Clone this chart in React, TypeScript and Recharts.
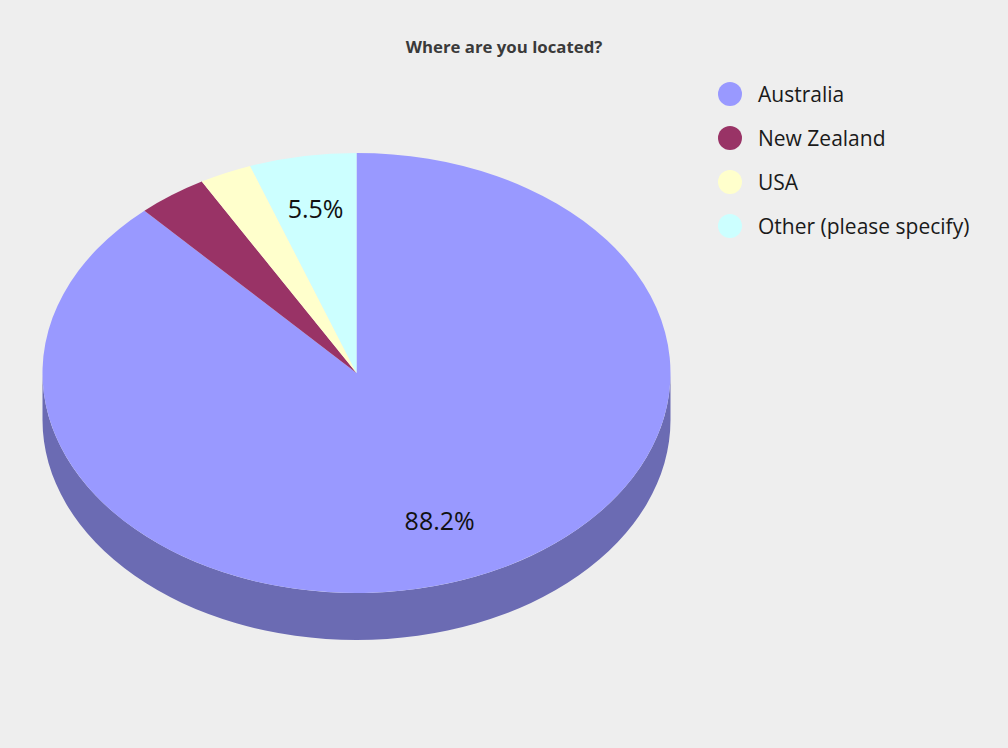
import { PieChart, Pie, Legend } from 'recharts'

const categories = ['Australia', 'New Zealand', 'USA', 'Other (please specify)']
const shares = [88.2, 3.6, 2.7, 5.5]
const colors = ['#9999ff', '#993366', '#ffffcc', '#ccffff']
const labelledShares = ['88.2%', '5.5%']

const FONT = '"Open Sans", "Noto Sans", sans-serif'
const TILT = 220 / 314 // vertical squash of the pie
const DEPTH = 47

const rows = categories.map((name, i) => ({ name, value: shares[i], fill: colors[i] }))

const rad = (a: number) => (a * Math.PI) / 180

function darken(hex: string) {
  const n = parseInt(hex.slice(1), 16)
  const f = (v: number) => Math.round(v * 0.7).toString(16).padStart(2, '0')
  return `#${f((n >> 16) & 255)}${f((n >> 8) & 255)}${f(n & 255)}`
}

// Recharts works out the angles, this only flattens the sector into an ellipse and adds the wall
function TiltedSector(props: any) {
  const { cx, cy, outerRadius, startAngle, endAngle, fill } = props
  const rx = outerRadius
  const ry = outerRadius * TILT
  const px = (a: number) => cx + rx * Math.cos(rad(a))
  const py = (a: number) => cy - ry * Math.sin(rad(a))
  const large = Math.abs(startAngle - endAngle) > 180 ? 1 : 0
  const top = `M${cx},${cy} L${px(startAngle)},${py(startAngle)} A${rx},${ry} 0 ${large} 1 ${px(endAngle)},${py(endAngle)} Z`

  // the wall shows only on the front half, angles -180..0 going clockwise from the top
  const wallStart = Math.min(startAngle, 0)
  const wallEnd = Math.max(endAngle, -180)
  const hasWall = wallStart > wallEnd
  const wall = hasWall
    ? `M${px(wallStart)},${py(wallStart)} A${rx},${ry} 0 0 1 ${px(wallEnd)},${py(wallEnd)} L${px(wallEnd)},${py(wallEnd) + DEPTH} A${rx},${ry} 0 0 0 ${px(wallStart)},${py(wallStart) + DEPTH} Z`
    : ''

  return (
    <g>
      {hasWall && <path d={wall} fill={darken(fill)} />}
      <path d={top} fill={fill} />
    </g>
  )
}

function renderLabel(props: any) {
  const { cx, cy, outerRadius, midAngle, percent } = props
  const text = `${(percent * 100).toFixed(1)}%`
  if (!labelledShares.includes(text)) return null
  const x = cx + outerRadius * 0.74 * Math.cos(rad(midAngle)) - 1
  const y = cy - outerRadius * TILT * 0.74 * Math.sin(rad(midAngle)) - 5
  return (
    <text x={x} y={y} textAnchor="middle" dominantBaseline="central" fontFamily={FONT} fontSize={25} fill="#111">
      {text}
    </text>
  )
}

function renderLegend(props: any) {
  return (
    <div>
      {props.payload.map((item: any) => (
        <div key={item.value} style={{ display: 'flex', alignItems: 'center', height: 44 }}>
          <svg width={24} height={24} style={{ marginRight: 16 }}>
            <circle cx={12} cy={12} r={12} fill={item.color} />
          </svg>
          <span style={{ fontFamily: FONT, fontSize: 21, color: '#1a1a1a', whiteSpace: 'nowrap' }}>{item.value}</span>
        </div>
      ))}
    </div>
  )
}

export default function App() {
  return (
    <div style={{ position: 'absolute', left: 0, top: 0, width: 1008, height: 748, background: '#eeeeee', overflow: 'hidden' }}>
      <PieChart width={1008} height={748} margin={{ top: 0, right: 0, bottom: 0, left: 0 }}>
        <text x={504} y={46} textAnchor="middle" dominantBaseline="central" fontFamily={FONT} fontSize={16.8} fontWeight={700} fill="#3a3a3a">
          Where are you located?
        </text>
        <Pie
          data={rows}
          dataKey="value"
          nameKey="name"
          cx={356.5}
          cy={373}
          outerRadius={314}
          startAngle={90}
          endAngle={-270}
          stroke="none"
          shape={TiltedSector}
          label={renderLabel}
          labelLine={false}
          isAnimationActive={false}
        />
        <Legend
          layout="vertical"
          content={renderLegend}
          itemSorter={null}
          wrapperStyle={{ left: 718, top: 72, width: 290 }}
        />
      </PieChart>
    </div>
  )
}
